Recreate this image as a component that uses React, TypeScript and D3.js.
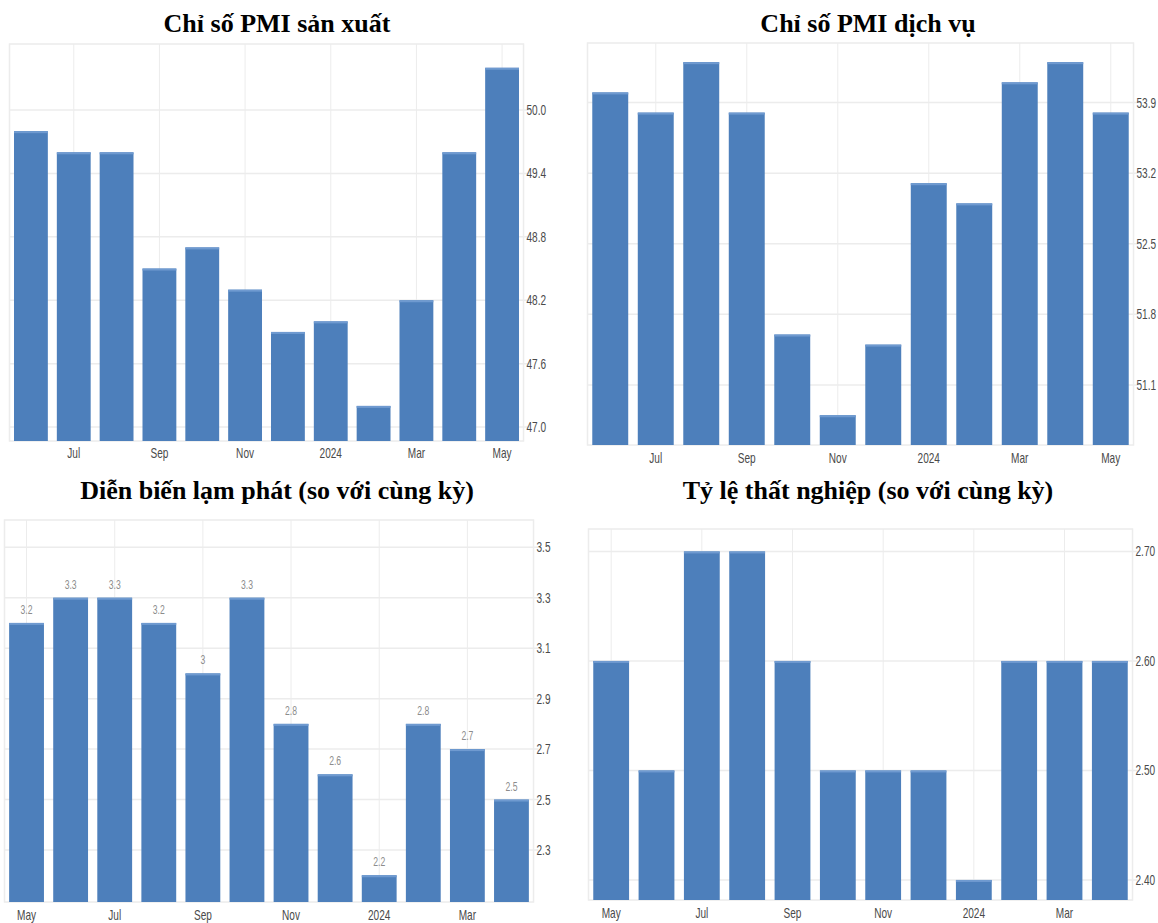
import React from 'react';
import * as d3 from 'd3';

// monthly categories, Jun 2023 .. May 2024 for the two PMI charts
const pmiMonths = ['2023-06', '2023-07', '2023-08', '2023-09', '2023-10', '2023-11', '2023-12', '2024-01', '2024-02', '2024-03', '2024-04', '2024-05'];
// May 2023 .. Apr 2024 for inflation / unemployment
const macroMonths = ['2023-05', '2023-06', '2023-07', '2023-08', '2023-09', '2023-10', '2023-11', '2023-12', '2024-01', '2024-02', '2024-03', '2024-04'];

const pmiXTicks: [string, string][] = [['2023-07', 'Jul'], ['2023-09', 'Sep'], ['2023-11', 'Nov'], ['2024-01', '2024'], ['2024-03', 'Mar'], ['2024-05', 'May']];
const macroXTicks: [string, string][] = [['2023-05', 'May'], ['2023-07', 'Jul'], ['2023-09', 'Sep'], ['2023-11', 'Nov'], ['2024-01', '2024'], ['2024-03', 'Mar']];

const mfgPmi = [49.8, 49.6, 49.6, 48.5, 48.7, 48.3, 47.9, 48.0, 47.2, 48.2, 49.6, 50.4];
const mfgTicks = [47.0, 47.6, 48.2, 48.8, 49.4, 50.0];

const svcPmi = [54.0, 53.8, 54.3, 53.8, 51.6, 50.8, 51.5, 53.1, 52.9, 54.1, 54.3, 53.8];
const svcTicks = [51.1, 51.8, 52.5, 53.2, 53.9];

const cpiValues = [3.2, 3.3, 3.3, 3.2, 3.0, 3.3, 2.8, 2.6, 2.2, 2.8, 2.7, 2.5];
const cpiTicks = [2.3, 2.5, 2.7, 2.9, 3.1, 3.3, 3.5];

const jobValues = [2.6, 2.5, 2.7, 2.7, 2.6, 2.5, 2.5, 2.5, 2.4, 2.6, 2.6, 2.6];
const jobTicks = [2.4, 2.5, 2.6, 2.7];

const BAR = '#4d7fbb';
const GRID = '#ececec';
const LABEL = '#4a4a4a';
const NARROW = 0.72;

interface PanelProps {
  title: string;
  titleX: number;
  titleY: number;
  months: string[];
  values: number[];
  xTicks: [string, string][];
  yTicks: number[];
  yDomain: [number, number];
  digits: number;
  left: number;
  right: number;
  top: number;
  bottom: number;
  labelY: number;
  showValues?: boolean;
}

const Panel: React.FC<PanelProps> = ({
  title, titleX, titleY, months, values, xTicks, yTicks, yDomain, digits,
  left, right, top, bottom, labelY, showValues
}) => {
  const x = d3.scaleBand<string>().domain(months).range([left, right]).paddingInner(0.21).paddingOuter(0.105);
  const y = d3.scaleLinear().domain(yDomain).range([bottom, top]);
  const cx = (m: string) => (x(m) ?? 0) + x.bandwidth() / 2;

  return (
    <g>
      <text x={titleX} y={titleY} textAnchor="middle" fontFamily="'Liberation Serif', 'Times New Roman', serif"
        fontWeight="bold" fontSize={26} fill="#000">{title}</text>

      <rect x={left} y={top} width={right - left} height={bottom - top} fill="none" stroke={GRID} strokeWidth={1.5} />
      {yTicks.map(t => (
        <line key={'h' + t} x1={left} x2={right + 5} y1={y(t)} y2={y(t)} stroke={GRID} strokeWidth={1.5} />
      ))}
      {xTicks.map(([m]) => (
        <line key={'v' + m} x1={cx(m)} x2={cx(m)} y1={top} y2={bottom} stroke={GRID} strokeWidth={1} />
      ))}

      {months.map((m, i) => (
        <g key={m}>
          <rect x={x(m)} y={y(values[i])} width={x.bandwidth()} height={bottom - y(values[i])} fill={BAR} />
          <rect x={x(m)} y={y(values[i])} width={x.bandwidth()} height={2} fill="#6f9ad0" />
          {showValues && (
            <text transform={`translate(${cx(m)},${y(values[i]) - 9}) scale(${NARROW},1)`} textAnchor="middle"
              fontFamily="'Liberation Sans', Arial, sans-serif" fontSize={12} fill="#8c8c8c">
              {d3.format('~g')(values[i])}
            </text>
          )}
        </g>
      ))}

      {yTicks.map(t => (
        <text key={'l' + t} transform={`translate(${right + 3},${y(t) + 5}) scale(${NARROW},1)`}
          fontFamily="'Liberation Sans', Arial, sans-serif" fontSize={14} fill={LABEL}>
          {t.toFixed(digits)}
        </text>
      ))}
      {xTicks.map(([m, lab]) => (
        <text key={'x' + m} transform={`translate(${cx(m)},${labelY}) scale(${NARROW},1)`} textAnchor="middle"
          fontFamily="'Liberation Sans', Arial, sans-serif" fontSize={14} fill={LABEL}>
          {lab}
        </text>
      ))}
    </g>
  );
};

export default function App() {
  return (
    <svg width={1158} height={923} style={{ position: 'absolute', left: 0, top: 0, background: '#fff' }}>
      <rect width={1158} height={923} fill="#fff" />
      <Panel title="Chỉ số PMI sản xuất" titleX={277} titleY={32}
        months={pmiMonths} values={mfgPmi} xTicks={pmiXTicks} yTicks={mfgTicks}
        yDomain={[46.868, 50.625]} digits={1}
        left={9.5} right={523.5} top={44} bottom={441} labelY={458} />
      <Panel title="Chỉ số PMI dịch vụ" titleX={868} titleY={32}
        months={pmiMonths} values={svcPmi} xTicks={pmiXTicks} yTicks={svcTicks}
        yDomain={[50.505, 54.49]} digits={1}
        left={587.5} right={1133.5} top={43} bottom={445} labelY={463} />
      <Panel title="Diễn biến lạm phát (so với cùng kỳ)" titleX={277} titleY={499}
        months={macroMonths} values={cpiValues} xTicks={macroXTicks} yTicks={cpiTicks}
        yDomain={[2.094, 3.608]} digits={1}
        left={4.5} right={533.5} top={520} bottom={902} labelY={920} showValues />
      <Panel title="Tỷ lệ thất nghiệp (so với cùng kỳ)" titleX={868} titleY={499}
        months={macroMonths} values={jobValues} xTicks={macroXTicks} yTicks={jobTicks}
        yDomain={[2.3817, 2.7205]} digits={2}
        left={588.5} right={1132.5} top={529} bottom={900} labelY={918} />
    </svg>
  );
}
